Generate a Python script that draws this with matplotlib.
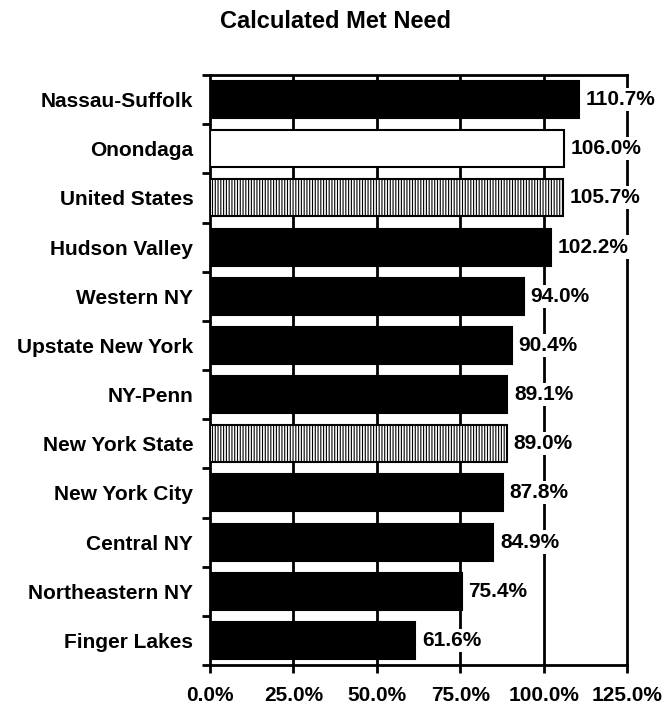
import matplotlib
matplotlib.use("Agg")
import matplotlib.pyplot as plt
import numpy as np

categories = ["Nassau-Suffolk", "Onondaga", "United States", "Hudson Valley",
              "Western NY", "Upstate New York", "NY-Penn", "New York State",
              "New York City", "Central NY", "Northeastern NY", "Finger Lakes"]
values = [110.7, 106.0, 105.7, 102.2, 94.0, 90.4, 89.1, 89.0, 87.8, 84.9, 75.4, 61.6]
styles = ["solid", "white", "hatch", "solid", "solid", "solid", "solid", "hatch",
          "solid", "solid", "solid", "solid"]
xticks = [0, 25, 50, 75, 100, 125]
xtick_labels = ["0.0%", "25.0%", "50.0%", "75.0%", "100.0%", "125.0%"]
title = "Calculated Met Need"

plt.rcParams['font.family'] = ['Liberation Sans', 'DejaVu Sans']
plt.rcParams['font.weight'] = 'bold'
plt.rcParams['hatch.linewidth'] = 0.8

FS = 15

fig = plt.figure(figsize=(6.71, 7.07), dpi=100)
ax = fig.add_axes([210/671, 1 - 665/707, (627-210)/671, (665-75)/707])

n = len(categories)
ypos = np.arange(n)[::-1]

for y, v, s in zip(ypos, values, styles):
    if s == "solid":
        fc, h = "black", None
    elif s == "white":
        fc, h = "white", None
    else:
        fc, h = "white", "||||||"
    ax.barh(y, v, height=0.75, color=fc, edgecolor="black", linewidth=1.5,
            hatch=h, zorder=3)
    ax.text(v + 2.0, y, f"{v:.1f}%", va="center", ha="left", fontsize=FS,
            fontweight="bold", zorder=4,
            bbox=dict(facecolor="white", edgecolor="none", pad=1.5))

ax.set_xlim(0, 125)
ax.set_ylim(-0.5, n - 0.5)
ax.set_xticks(xticks)
ax.set_xticklabels(xtick_labels, fontsize=FS, fontweight="bold")
for x in xticks[1:-1]:
    ax.axvline(x, color="black", linewidth=2, zorder=1)

ax.set_yticks(ypos)
ax.set_yticklabels(categories, fontsize=FS, fontweight="bold")
ax.tick_params(axis="y", length=0, pad=12)
ax.set_yticks(np.arange(-0.5, n, 1.0), minor=True)
ax.tick_params(axis="y", which="minor", length=6, width=2, direction="out")
ax.tick_params(axis="x", length=6, width=2, direction="out", pad=9)

for sp in ax.spines.values():
    sp.set_linewidth(2)
    sp.set_zorder(0.5)

fig.text(0.5, 1 - 21/707, title, ha="center", va="center", fontsize=17,
         fontweight="bold")

fig.savefig("out.png", dpi=100)
